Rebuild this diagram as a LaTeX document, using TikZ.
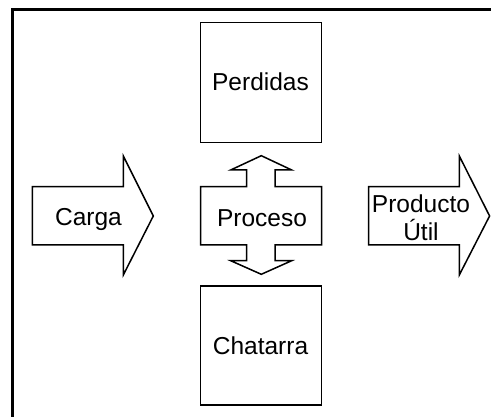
\documentclass[tikz,border=0pt]{standalone}
\usepackage{fontspec}
\setmainfont{Liberation Sans}
\begin{document}
\begin{tikzpicture}[x=1pt,y=-1pt,
  outl/.style={draw=black,line width=1.5pt,line join=miter,fill=white},
  lbl/.style={font=\fontsize{24.5}{28.3}\selectfont,inner sep=0pt,align=center,text=black},
  outerframe/.style={draw=black,line width=3pt}]
\useasboundingbox (0,0) rectangle (491,417);
\clip (0,0) rectangle (491,417);
% outer frame
\draw[outerframe] (12.5,9.5) rectangle (520,440);
% loss and scrap boxes
\draw[outl] (200.7,22.3) rectangle (321.7,142.7);
\draw[outl] (200.7,286) rectangle (321.7,405);
% input arrow
\draw[outl] (32.3,186.7) -- (123.3,186.7) -- (123.3,156) -- (153.3,216)
  -- (123.3,275) -- (123.3,245) -- (32.3,245) -- cycle;
% output arrow
\draw[outl] (368.7,186.7) -- (459.3,186.7) -- (459.3,156) -- (489.6,216)
  -- (459.3,275) -- (459.3,245) -- (368.7,245) -- cycle;
% process block with up and down arrows
\draw[outl] (200.7,186.7) -- (246.7,186.7) -- (246.7,170) -- (230.7,170)
  -- (261.3,155.7) -- (291.7,170) -- (275,170) -- (275,186.7) -- (321.7,186.7)
  -- (321.7,245) -- (275,245) -- (275,260.7) -- (291.7,260.7) -- (261.3,274.3)
  -- (230.7,260.7) -- (246.7,260.7) -- (246.7,245) -- (200.7,245) -- cycle;
% labels
\node[lbl,anchor=base] (perdidas) at (260.5,91) {Perdidas};
\node[lbl,anchor=base] (chatarra) at (260.5,354.3) {Chatarra};
\node[lbl,anchor=base] (carga) at (88.5,225.7) {Carga};
\node[lbl,anchor=base] (proceso) at (262,226.7) {Proceso};
\node[lbl] (producto) at (421,217.5) {Producto\\Útil};
\end{tikzpicture}
\end{document}
